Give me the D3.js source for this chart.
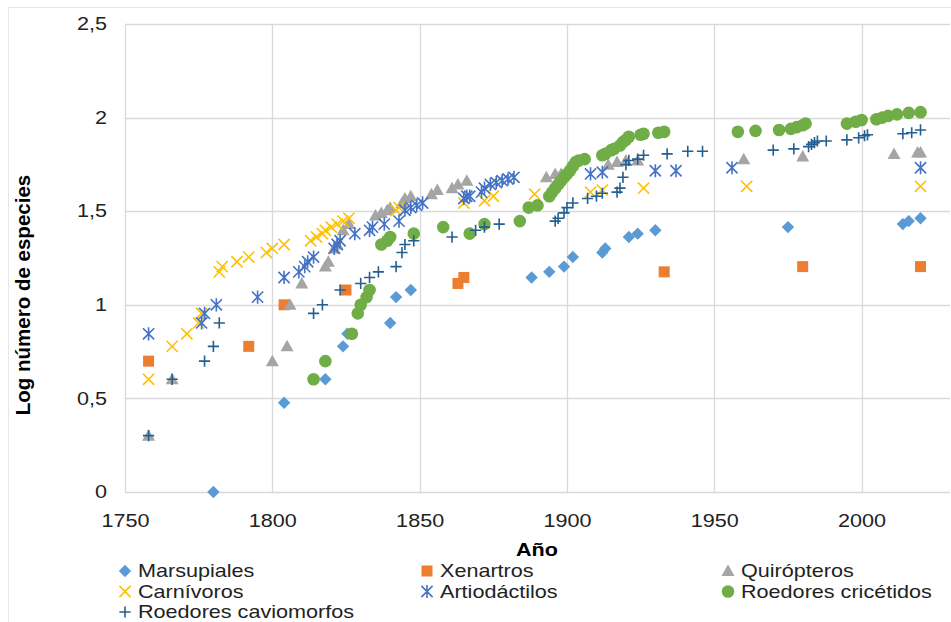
<!DOCTYPE html>
<html lang="es">
<head>
<meta charset="UTF-8">
<title>Log número de especies por año</title>
<script src="https://cdn.jsdelivr.net/npm/d3@7"></script>
<style>
  body { margin: 0; background: #fff; }
  svg { font-family: "Liberation Sans", Arial, sans-serif; }
</style>
</head>
<body>
<script>
// datos [año, log número de especies]
var marsupiales = [[1780,0],[1804,0.477],[1818,0.602],[1824,0.778],[1825.5,0.845],[1840,0.903],[1842,1.041],[1847,1.079],
  [1888,1.146],[1894,1.176],[1899,1.204],[1902,1.255],[1912,1.279],[1913,1.301],[1921,1.362],[1924,1.380],[1930,1.398],
  [1975,1.415],[2014,1.431],[2016,1.447],[2020,1.462]];
var xenartros = [[1758,0.699],[1792,0.778],[1804,1.0],[1825,1.079],[1863,1.114],[1865,1.146],[1933,1.176],[1980,1.204],[2020,1.204]];
var quiropteros = [[1758,0.301],[1766,0.602],[1800,0.699],[1805,0.778],[1806,1.0],[1810,1.114],[1818,1.204],[1819,1.230],
  [1821,1.301],[1822,1.322],[1824,1.398],[1826,1.431],[1835,1.477],[1837,1.491],[1839,1.505],[1840,1.519],[1844,1.544],
  [1845,1.568],[1847,1.580],[1854,1.591],[1856,1.613],[1861,1.623],[1863,1.643],[1866,1.663],[1893,1.681],[1896,1.699],
  [1898,1.699],[1914,1.748],[1917,1.763],[1920,1.771],[1924,1.771],[1960,1.778],[1980,1.792],[2011,1.806],[2019,1.813],[2020,1.813]];
var carnivoros = [[1758,0.602],[1766,0.778],[1771,0.845],[1775,0.903],[1776,0.954],[1782,1.176],[1783,1.204],[1788,1.230],
  [1792,1.255],[1798,1.279],[1800,1.301],[1804,1.322],[1813,1.342],[1815,1.362],[1817,1.380],[1818,1.398],[1820,1.415],
  [1822,1.431],[1824,1.447],[1826,1.462],[1842,1.505],[1843,1.519],[1865,1.544],[1872,1.556],[1875,1.580],[1889,1.591],
  [1908,1.602],[1912,1.613],[1926,1.623],[1961,1.633],[2020,1.633]];
var artiodactilos = [[1758,0.845],[1776,0.903],[1777,0.954],[1781,1.0],[1795,1.041],[1804,1.146],[1809,1.176],[1811,1.204],
  [1812,1.230],[1814,1.255],[1821,1.301],[1822,1.322],[1823,1.342],[1828,1.380],[1833,1.398],[1834,1.415],[1838,1.431],
  [1843,1.447],[1845,1.505],[1847,1.519],[1849,1.531],[1851,1.544],[1865,1.568],[1866,1.580],[1867,1.580],[1871,1.602],
  [1872,1.623],[1874,1.643],[1876,1.653],[1878,1.663],[1880,1.672],[1882,1.681],[1908,1.699],[1912,1.708],[1930,1.716],
  [1937,1.716],[1956,1.732],[2020,1.732]];
var cricetidos = [[1814,0.602],[1818,0.699],[1827,0.845],[1829,0.954],[1830,1.0],[1832,1.041],[1833,1.079],[1837,1.322],
  [1839,1.342],[1840,1.362],[1848,1.380],[1858,1.415],[1867,1.380],[1872,1.431],[1884,1.447],[1887,1.519],[1890,1.531],
  [1894,1.580],[1895,1.602],[1896,1.623],[1897,1.643],[1898,1.663],[1899,1.681],[1900,1.699],[1901,1.716],[1902,1.740],
  [1903,1.763],[1904,1.771],[1906,1.778],[1912,1.799],[1913,1.806],[1915,1.826],[1916,1.833],[1918,1.851],[1919,1.869],
  [1920,1.881],[1921,1.898],[1925,1.908],[1926,1.914],[1931,1.919],[1933,1.924],[1958,1.924],[1964,1.929],[1972,1.934],
  [1976,1.940],[1978,1.949],[1980,1.959],[1981,1.968],[1995,1.968],[1998,1.978],[2000,1.987],[2005,1.991],[2007,2.0],
  [2009,2.009],[2012,2.017],[2016,2.025],[2020,2.029]];
var caviomorfos = [[1758,0.301],[1766,0.602],[1777,0.699],[1780,0.778],[1782,0.903],[1814,0.954],[1817,1.0],[1823,1.079],
  [1830,1.114],[1833,1.146],[1836,1.176],[1842,1.204],[1844,1.279],[1845,1.322],[1848,1.342],[1861,1.362],[1869,1.398],
  [1872,1.415],[1877,1.431],[1896,1.447],[1897,1.462],[1899,1.491],[1900,1.519],[1902,1.544],[1907,1.568],[1910,1.580],
  [1912,1.596],[1917,1.602],[1918,1.623],[1919,1.681],[1920,1.748],[1921,1.771],[1924,1.778],[1926,1.799],[1934,1.806],
  [1941,1.820],[1946,1.820],[1970,1.826],[1977,1.833],[1982,1.845],[1983,1.857],[1984,1.866],[1985,1.875],[1988,1.875],
  [1995,1.881],[1999,1.892],[2001,1.903],[2002,1.908],[2014,1.914],[2017,1.919],[2020,1.934]];

var xTicks = [1750,1800,1850,1900,1950,2000];
var yTicks = [0,0.5,1,1.5,2,2.5];

var series = [
  {name:"Marsupiales", data:marsupiales, shape:"diamond", color:"#5B9BD5"},
  {name:"Xenartros", data:xenartros, shape:"square", color:"#ED7D31"},
  {name:"Quirópteros", data:quiropteros, shape:"triangle", color:"#A5A5A5"},
  {name:"Carnívoros", data:carnivoros, shape:"x", color:"#FFC000"},
  {name:"Artiodáctilos", data:artiodactilos, shape:"star", color:"#4472C4"},
  {name:"Roedores cricétidos", data:cricetidos, shape:"circle", color:"#70AD47"},
  {name:"Roedores caviomorfos", data:caviomorfos, shape:"plus", color:"#255E91"}
];

var width = 951, height = 622;
var stretch = "scale(1.2,1)"; // el texto del original sale algo ensanchado
var svg = d3.select("body").append("svg").attr("width", width).attr("height", height);

// borde del área del gráfico
svg.append("rect").attr("x", 8.5).attr("y", 7.5).attr("width", 1000).attr("height", 700)
  .attr("fill", "none").attr("stroke", "#e6e6e6");

var x = d3.scaleLinear().domain([1750, 2030]).range([125, 950]);
var y = d3.scaleLinear().domain([0, 2.5]).range([492, 24]);

// rejilla
svg.append("g").selectAll("line").data(yTicks).enter().append("line")
  .attr("x1", x(1750)).attr("x2", x(2030))
  .attr("y1", function(d){ return Math.round(y(d)) + 0.5; })
  .attr("y2", function(d){ return Math.round(y(d)) + 0.5; })
  .attr("stroke", "#d9d9d9").attr("stroke-width", 1.3);
svg.append("g").selectAll("line").data(xTicks).enter().append("line")
  .attr("y1", y(0)).attr("y2", y(2.5))
  .attr("x1", function(d){ return Math.round(x(d)) + 0.5; })
  .attr("x2", function(d){ return Math.round(x(d)) + 0.5; })
  .attr("stroke", "#d9d9d9").attr("stroke-width", 1.3);

// ejes
var xAxis = d3.axisBottom(x).tickValues(xTicks).tickSize(0).tickPadding(22).tickFormat(d3.format("d"));
var yAxis = d3.axisLeft(y).tickValues(yTicks).tickSize(0).tickPadding(15)
  .tickFormat(function(d){ return String(d).replace(".", ","); });
var gx = svg.append("g").attr("transform", "translate(0," + y(0) + ")").call(xAxis);
var gy = svg.append("g").attr("transform", "translate(" + x(1750) + ",0)").call(yAxis);
[gx, gy].forEach(function(g){
  g.select(".domain").remove();
  g.selectAll("text").attr("font-size", 18).attr("fill", "#222").attr("transform", stretch)
    .attr("font-family", "Liberation Sans, Arial, sans-serif");
});

// marcadores
function marker(g, shape, color, cx, cy) {
  var s = 5.6;
  if (shape == "diamond") {
    g.append("path").attr("d", "M"+cx+","+(cy-6.2)+"L"+(cx+6.2)+","+cy+"L"+cx+","+(cy+6.2)+"L"+(cx-6.2)+","+cy+"Z").attr("fill", color);
  } else if (shape == "square") {
    g.append("rect").attr("x", cx-5.5).attr("y", cy-5.5).attr("width", 11).attr("height", 11).attr("fill", color);
  } else if (shape == "triangle") {
    g.append("path").attr("d", "M"+cx+","+(cy-6.5)+"L"+(cx+6.5)+","+(cy+5)+"L"+(cx-6.5)+","+(cy+5)+"Z").attr("fill", color);
  } else if (shape == "circle") {
    g.append("circle").attr("cx", cx).attr("cy", cy).attr("r", 6.3).attr("fill", color);
  } else {
    var p = "";
    if (shape == "x" || shape == "star") p += "M"+(cx-s)+","+(cy-s)+"L"+(cx+s)+","+(cy+s)+"M"+(cx-s)+","+(cy+s)+"L"+(cx+s)+","+(cy-s);
    if (shape == "star") p += "M"+cx+","+(cy-s-1)+"L"+cx+","+(cy+s+1);
    if (shape == "plus") p += "M"+(cx-s)+","+cy+"L"+(cx+s)+","+cy+"M"+cx+","+(cy-s)+"L"+cx+","+(cy+s);
    g.append("path").attr("d", p).attr("stroke", color).attr("stroke-width", 1.6).attr("fill", "none");
  }
}

series.forEach(function(s){
  var g = svg.append("g");
  s.data.forEach(function(d){ marker(g, s.shape, s.color, x(d[0]), y(d[1])); });
});

// títulos
svg.append("g").attr("transform", "translate(537,556)")
  .append("text").attr("transform", stretch).attr("text-anchor", "middle")
  .attr("font-size", 18).attr("font-weight", "bold").attr("fill", "#000").text("Año");
svg.append("text").attr("transform", "translate(30,295) rotate(-90)").attr("text-anchor", "middle")
  .attr("font-size", 20.5).attr("font-weight", "bold").attr("fill", "#000").text("Log número de especies");

// leyenda
var colX = [125, 427, 728];
var rowY = [577, 597.5, 618];
series.forEach(function(s, i){
  var cx = colX[i % 3], by = rowY[Math.floor(i / 3)];
  var g = svg.append("g");
  marker(g, s.shape, s.color, cx, by - 6);
  g.append("g").attr("transform", "translate(" + (cx + 13) + "," + by + ")")
    .append("text").attr("transform", stretch).attr("font-size", 18).attr("fill", "#222").text(s.name);
});
</script>
</body>
</html>
